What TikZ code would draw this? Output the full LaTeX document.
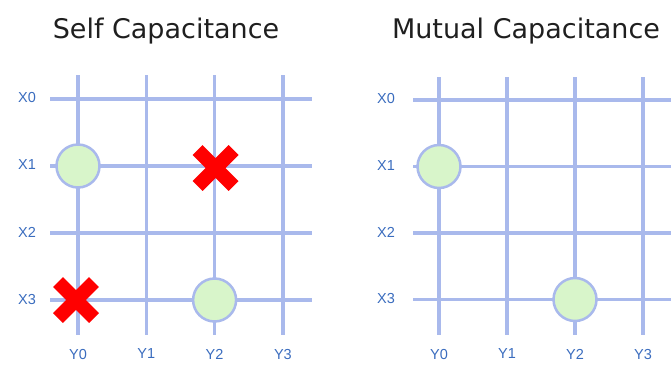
\documentclass[tikz,border=0pt]{standalone}
\usepackage{fontspec}
\setmainfont{DejaVu Sans}
\newfontfamily\labelfont{Liberation Sans}

\definecolor{gridblue}{HTML}{A9B9EC}
\definecolor{padgreen}{HTML}{D8F5CA}
\definecolor{labelblue}{HTML}{3A6CBE}
\definecolor{touchred}{HTML}{FF0000}

\tikzset{
	wire/.style={gridblue, line width=3.5pt},
	pad/.style={circle, draw=gridblue, fill=padgreen, line width=2.5pt, minimum size=43pt, inner sep=0pt},
	ghost/.style={touchred, line width=14pt},
	axislabel/.style={text=labelblue, font=\labelfont\fontsize{14.5}{14.5}\selectfont},
	paneltitle/.style={anchor=base, text=black!88, font=\fontsize{27}{27}\selectfont}
}

\begin{document}
\begin{tikzpicture}[x=1pt, y=-1pt]
	
	% 1. Khung hình
	\useasboundingbox (0,0) rectangle (671,365);
	\def\dx{68.3}
	\def\dy{67}
	
	% 2. Tiêu đề
	\node[paneltitle] (selftitle) at (166,38) {Self Capacitance};
	\node[paneltitle] (mutualtitle) at (526,38) {Mutual Capacitance};
	
	% 3. Lưới bên trái
	\begin{scope}[shift={(78,99)}]
		\foreach \i in {0,...,3} {
			\draw[wire] (-28,\i*\dy) -- (234,\i*\dy);
			\draw[wire] (\i*\dx,-24) -- (\i*\dx,236);
			\node[axislabel] (sX\i) at (-51,\i*\dy-1) {X\i};
			\node[axislabel] (sY\i) at (\i*\dx,255) {Y\i};
		}
		% Điểm chạm thật
		\node[pad] (spadA) at (0,\dy) {};
		\node[pad] (spadB) at (2*\dx,3*\dy) {};
		% Điểm chạm ảo
		\coordinate (sghostA) at (2*\dx+1,\dy+2);
		\coordinate (sghostB) at (-2,3*\dy);
		\foreach \c in {sghostA,sghostB} {
			\draw[ghost] (\c) ++(-18,-18) -- ++(36,36);
			\draw[ghost] (\c) ++(-18,18) -- ++(36,-36);
		}
	\end{scope}
	
	% 4. Lưới bên phải
	\begin{scope}[shift={(439,100)}]
		\foreach \i in {0,...,3} {
			\draw[wire] (-26,\i*66.5) -- (234,\i*66.5);
			\draw[wire] (\i*68,-23) -- (\i*68,235);
			\node[axislabel] (mX\i) at (-53,\i*66.5-1) {X\i};
			\node[axislabel] (mY\i) at (\i*68,254) {Y\i};
		}
		\node[pad] (mpadA) at (0,66.5) {};
		\node[pad] (mpadB) at (2*68,3*66.5) {};
	\end{scope}
	
\end{tikzpicture}
\end{document}
